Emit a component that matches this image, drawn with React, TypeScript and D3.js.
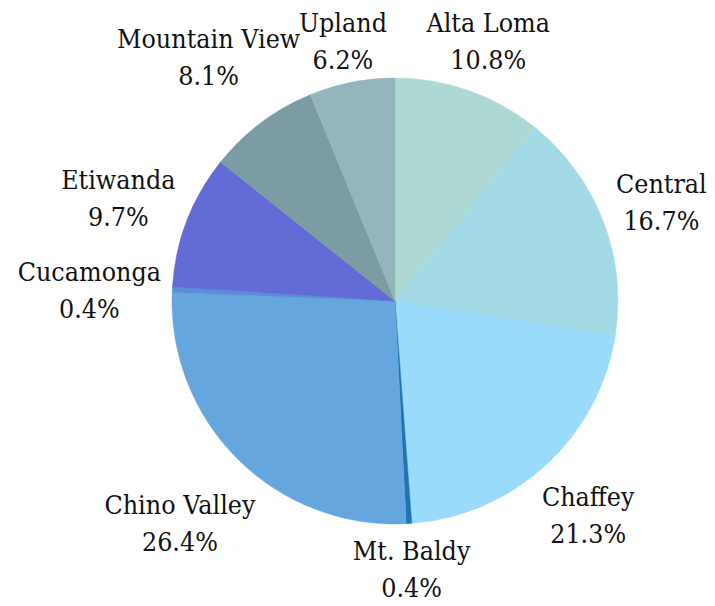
import React, { useEffect, useRef } from "react";
import * as d3 from "d3";

const categories = ["Alta Loma", "Central", "Chaffey", "Mt. Baldy", "Chino Valley", "Cucamonga", "Etiwanda", "Mountain View", "Upland"];
const values = [10.8, 16.7, 21.3, 0.4, 26.4, 0.4, 9.7, 8.1, 6.2];
const colors = ["#aed8d4", "#a4dae6", "#9adbfb", "#1f74b2", "#65a6de", "#5a8fd8", "#626bd6", "#7a9ca2", "#94b5bb"];

const W = 715, H = 606;
const CX = 395, CY = 301, R = 223;

export default function App() {
  const ref = useRef<SVGSVGElement>(null);
  useEffect(() => {
    const svg = d3.select(ref.current);
    svg.selectAll("*").remove();
    const data = categories.map((c, i) => ({ c, v: values[i], col: colors[i] }));
    const pie = d3.pie<any>().value((d) => d.v).sort(null);
    const arcs = pie(data);
    const arc = d3.arc<any>().innerRadius(0).outerRadius(R);
    const g = svg.append("g").attr("transform", `translate(${CX},${CY})`);
    g.selectAll("path").data(arcs).enter().append("path")
      .attr("d", arc as any)
      .attr("fill", (d: any) => d.data.col)
      .attr("stroke", (d: any) => d.data.col)
      .attr("stroke-width", 0.5);

    const lineH = 37;
    const fs = 26;
    const sx = 0.92;
    const capH = 0.73 * fs;
    const yShift = 4;
    arcs.forEach((a: any) => {
      const mid = (a.startAngle + a.endAngle) / 2;
      const ux = Math.sin(mid), uy = -Math.cos(mid);
      const t = g.append("text")
        .attr("text-anchor", "middle")
        .attr("font-family", "'DejaVu Serif', serif")
        .attr("font-size", fs)
        .attr("fill", "#111");
      t.append("tspan").attr("x", 0).attr("y", 0).text(a.data.c);
      t.append("tspan").attr("x", 0).attr("y", lineH).text(`${a.data.v.toFixed(1)}%`);
      const bb = (t.node() as SVGTextElement).getBBox();
      const hw = (bb.width * sx) / 2;
      const hh = (lineH + capH) / 2;
      const ext = Math.abs(ux) * hw + Math.abs(uy) * hh;
      const dist = R + 10 + ext;
      const cx = ux * dist, cy = uy * dist + yShift;
      const y0 = cy - (lineH - capH) / 2;
      t.attr("transform", `translate(${cx},${y0}) scale(${sx},1)`);
    });
  }, []);
  return <svg ref={ref} width={W} height={H} style={{ display: "block", position: "absolute", left: 0, top: 0 }} />;
}
